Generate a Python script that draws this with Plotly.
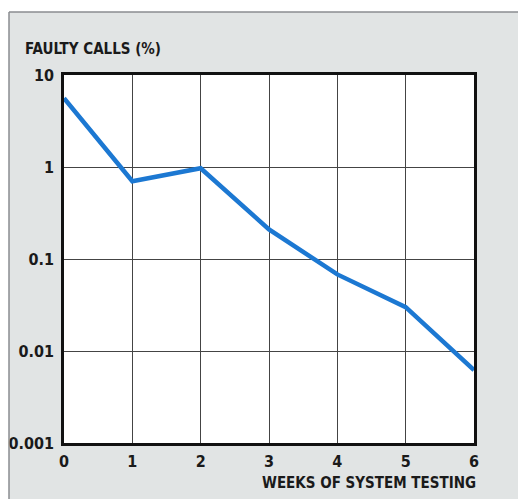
import plotly.graph_objects as go

weeks = [0, 1, 2, 3, 4, 5, 6]
faulty_calls_pct = [5.6, 0.70, 0.97, 0.21, 0.068, 0.030, 0.0062]
x_ticks = [0, 1, 2, 3, 4, 5, 6]
y_ticks = [0.001, 0.01, 0.1, 1, 10]
y_tick_labels = ["0.001", "0.01", "0.1", "1", "10"]

FONT = "DejaVu Sans Condensed, Liberation Sans Narrow, sans-serif"
OFF = 0  # body margin removed via post_script
W, H = 518, 499
L, R, T, B = 64, 44, 75, 56
pw, ph = W - L - R, H - T - B

def px2x(p):  # page pixel -> paper x
    return (p - OFF - L) / pw

def py2y(p):  # page pixel -> paper y
    return (H - B - (p - OFF)) / ph

fig = go.Figure()
fig.add_trace(go.Scatter(
    x=weeks, y=faulty_calls_pct, mode="lines",
    line=dict(color="#1c78d2", width=4.5), hoverinfo="skip", showlegend=False,
))

tickfont = dict(family=FONT, size=16, color="#1a1a1a")

fig.update_layout(
    template="none",
    width=W, height=H,
    margin=dict(l=L, r=R, t=T, b=B, pad=0),
    paper_bgcolor="#e1e4e4",
    plot_bgcolor="#ffffff",
    showlegend=False,
    xaxis=dict(
        range=[0, 6], tickvals=x_ticks, ticktext=["<b>%d</b>" % v for v in x_ticks],
        showgrid=True, gridcolor="#444444", gridwidth=1, automargin=False,
        showline=True, linecolor="#111111", linewidth=2.5, mirror=True,
        zeroline=False, ticks="", ticklabelstandoff=2, tickfont=tickfont,
    ),
    yaxis=dict(
        type="log", range=[-3, 1], tickvals=y_ticks, automargin=False,
        ticktext=["<b>%s</b>" % t for t in y_tick_labels],
        showgrid=True, gridcolor="#444444", gridwidth=1,
        showline=True, linecolor="#111111", linewidth=2.5, mirror=True,
        zeroline=False, ticks="", ticklabelstandoff=4, tickfont=tickfont,
    ),
    shapes=[
        dict(type="rect", xref="paper", yref="paper", layer="below",
             x0=px2x(-2), x1=px2x(520), y0=py2y(12), y1=py2y(-2),
             fillcolor="#ffffff", line=dict(width=0)),
        dict(type="rect", xref="paper", yref="paper", layer="below",
             x0=px2x(-2), x1=px2x(9), y0=py2y(505), y1=py2y(-2),
             fillcolor="#ffffff", line=dict(width=0)),
        dict(type="line", xref="paper", yref="paper",
             x0=px2x(9), x1=px2x(520), y0=py2y(12), y1=py2y(12),
             line=dict(color="#8a8d90", width=1.5)),
        dict(type="line", xref="paper", yref="paper",
             x0=px2x(9), x1=px2x(9), y0=py2y(12), y1=py2y(505),
             line=dict(color="#8a8d90", width=1.5)),
    ],
    annotations=[
        dict(text="<b>FAULTY CALLS (%)</b>", xref="paper", yref="paper",
             x=px2x(23), y=py2y(49), xanchor="left", yanchor="middle",
             showarrow=False, font=dict(family=FONT, size=15, color="#1a1a1a")),
        dict(text="<b>WEEKS OF SYSTEM TESTING</b>", xref="paper", yref="paper",
             x=px2x(478), y=py2y(483), xanchor="right", yanchor="middle",
             showarrow=False, font=dict(family=FONT, size=15, color="#1a1a1a")),
    ],
)

fig.write_html(
    "out.html",
    config={"displayModeBar": False},
    post_script="document.body.style.margin='0';document.body.style.overflow='hidden';",
)
